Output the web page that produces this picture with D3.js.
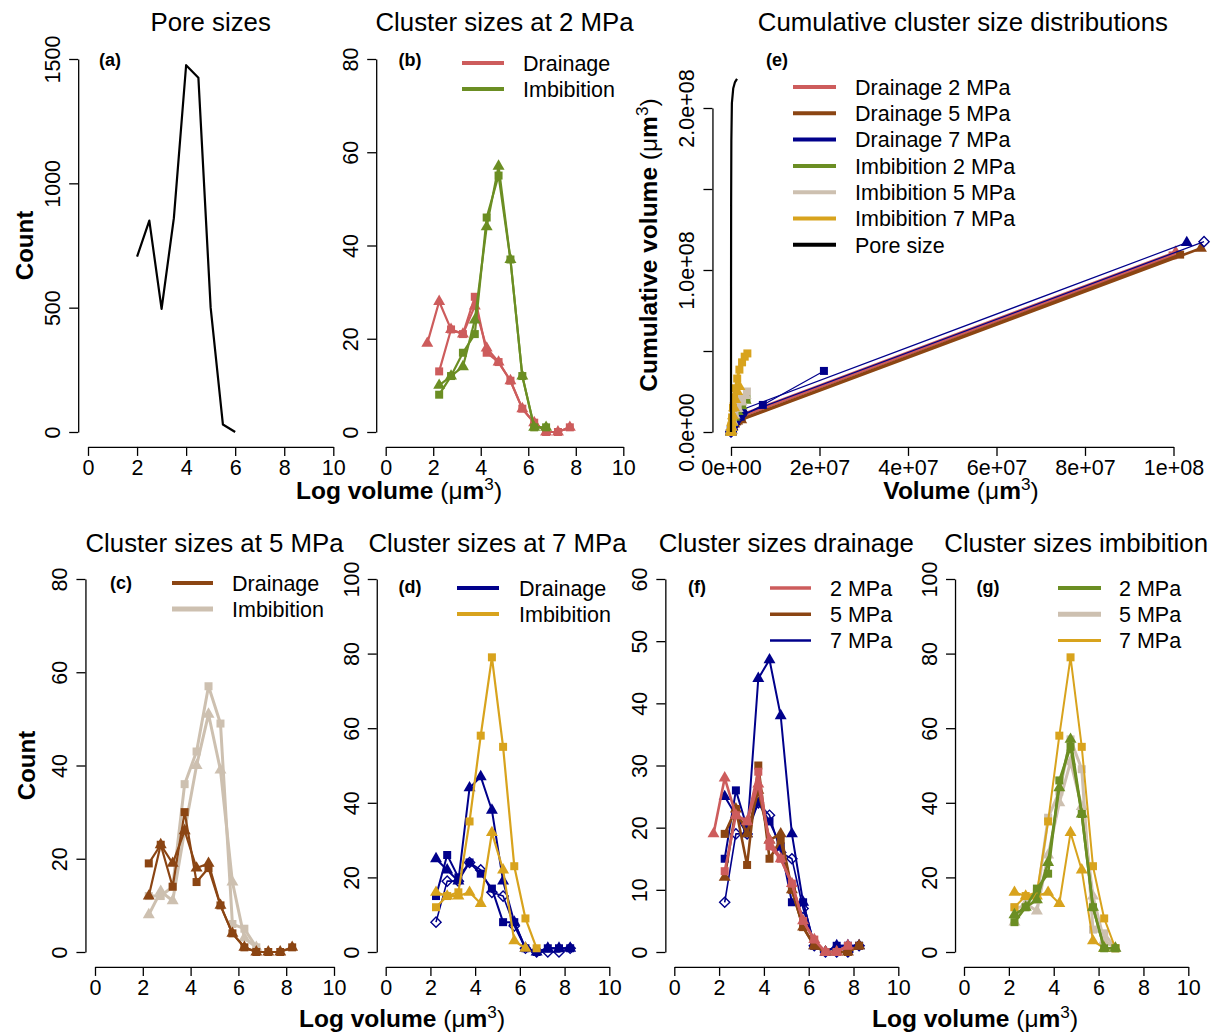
<!DOCTYPE html>
<html>
<head>
<meta charset="utf-8">
<script src="https://cdn.jsdelivr.net/npm/d3@7"></script>
<style>
  body { margin: 0; background: #fff; }
  svg { font-family: "Liberation Sans", Arial, sans-serif; }
</style>
</head>
<body>
<svg id="fig" width="1220" height="1036"></svg>
<script>
// ---- data ----
// pore size distribution (log10 volume, count)
const poreX = [2, 2.5, 3, 3.5, 4, 4.5, 5, 5.5, 6];
const poreCount = [705, 850, 495, 860, 1475, 1425, 500, 30, 0];

// bin centres for the cluster histograms
const binsA = [1.75, 2.25, 2.75, 3.25, 3.75, 4.25, 4.75, 5.25, 5.75, 6.25, 6.75, 7.25, 7.75];
const binsB = [2.25, 2.75, 3.25, 3.75, 4.25, 4.75, 5.25, 5.75, 6.25, 6.75, 7.25, 7.75];
const binsC = [2.25, 2.75, 3.25, 3.75, 4.25, 4.75, 5.25, 5.75, 6.25, 6.75, 7.25, 7.75, 8.25];
const binsI = [2.25, 2.75, 3.25, 3.75, 4.25, 4.75, 5.25, 5.75, 6.25, 6.75];
const binsI7t = [2.25, 2.75, 3.25, 3.75, 4.25, 4.75, 5.25, 5.75, 6.25];

// drainage 2 MPa (two replicates)
const drain2Sq = [13, 22, 21, 29, 17, 15, 11, 5, 2, 0, 0, 1];
const drain2Tri = [19, 28, 22, 21, 27, 18, 15, 11, 5, 2, 0, 0, 1];
// imbibition 2 MPa
const imb2Sq = [8, 12, 17, 21, 46, 55, 37, 12, 1, 1];
const imb2Tri = [10, 12, 14, 24, 44, 57, 37, 12, 1, 1];
// drainage 5 MPa
const drain5Sq = [19, 23, 14, 30, 15, 18, 10, 4, 1, 0, 0, 0, 1];
const drain5Tri = [12, 23, 19, 26, 18, 19, 10, 4, 1, 0, 0, 0, 1];
// imbibition 5 MPa
const imb5Sq = [12, 12, 14, 36, 43, 57, 49, 6, 5, 1];
const imb5Tri = [8, 13, 11, 26, 40, 51, 39, 15, 3, 1];
// drainage 7 MPa (three replicates)
const drain7Tri = [25, 22, 19, 44, 47, 38, 19, 8, 1, 0, 1, 1, 1];
const drain7Sq = [15, 26, 20, 24, 21, 17, 8, 8, 1, 0, 1, 1, 1];
const drain7Dia = [8, 19, 19, 24, 22, 16, 15, 7, 1, 0, 0, 0, 1];
// imbibition 7 MPa
const imb7Sq = [12, 15, 16, 35, 58, 79, 55, 23, 9, 1];
const imb7Tri = [16, 15, 15, 16, 13, 32, 22, 3, 1];

// cumulative distributions, units of 1e6 um^3
const cumD2SqX = [0, 0.02, 0.1, 0.3, 0.7, 1.3, 2.0, 99.8];
const cumD2SqY = [0, 0.3, 1.2, 3.0, 5.0, 7.2, 9.2, 109];
const cumD2TriX = [0, 0.02, 0.1, 0.3, 0.7, 1.3, 2.2, 100.5];
const cumD2TriY = [0, 0.3, 1.3, 3.2, 5.5, 8.0, 10.5, 111];
const cumD5SqX = [0, 0.02, 0.1, 0.3, 0.7, 1.4, 2.4, 101.5];
const cumD5SqY = [0, 0.3, 1.1, 2.8, 4.8, 6.5, 8.0, 109.5];
const cumD5TriX = [0, 0.02, 0.1, 0.3, 0.7, 1.4, 2.3, 106.2];
const cumD5TriY = [0, 0.3, 1.1, 2.9, 4.9, 6.8, 7.5, 113.4];
const cumD7SqX = [0, 0.02, 0.1, 0.3, 0.8, 2.2, 7.2, 21];
const cumD7SqY = [0, 0.3, 1.2, 3.0, 5.5, 9.5, 16.7, 37.7];
const cumD7TriX = [0, 0.02, 0.1, 0.3, 0.8, 1.6, 2.6, 103];
const cumD7TriY = [0, 0.3, 1.3, 3.4, 6.5, 9.8, 13.9, 116.9];
const cumD7DiaX = [0, 0.02, 0.1, 0.3, 0.8, 1.6, 2.4, 106.9];
const cumD7DiaY = [0, 0.3, 1.2, 3.1, 5.8, 8.2, 10.6, 117.5];
const cumI2SqX = [0, 0.03, 0.12, 0.35, 0.8, 1.5, 2.5, 3.5];
const cumI2SqY = [0, 0.8, 2.8, 6.0, 9.5, 13, 17, 20.5];
const cumI2TriX = [0, 0.03, 0.12, 0.35, 0.8, 1.5, 2.4, 3.3];
const cumI2TriY = [0, 0.8, 2.7, 5.8, 9.2, 12.6, 16.2, 19.5];
const cumI5SqX = [0, 0.03, 0.12, 0.35, 0.8, 1.5, 2.5, 3.6];
const cumI5SqY = [0, 0.9, 3.2, 7.2, 11.5, 16, 20.5, 25];
const cumI5TriX = [0, 0.03, 0.12, 0.35, 0.8, 1.5, 2.4, 3.3];
const cumI5TriY = [0, 0.9, 3.0, 6.6, 10.5, 14.5, 18.5, 22.5];
const cumI7SqX = [0, 0.03, 0.1, 0.25, 0.45, 0.7, 1.0, 1.4, 1.9, 2.5, 3.1, 3.7];
const cumI7SqY = [0, 1.2, 4, 9, 15, 21, 27, 33, 38.5, 43, 46.5, 48.5];
const cumI7TriX = [0, 0.03, 0.1, 0.25, 0.45, 0.7, 1.0, 1.4, 1.9];
const cumI7TriY = [0, 1.0, 3, 6, 10, 15, 20, 25, 28];
const cumPoreX = [0, 0.003, 0.01, 0.03, 0.08, 0.2, 0.5, 0.9, 1.36];
const cumPoreY = [0, 30, 90, 140, 180, 203, 212, 216, 218];

const cumLegend = ['Drainage 2 MPa', 'Drainage 5 MPa', 'Drainage 7 MPa',
  'Imbibition 2 MPa', 'Imbibition 5 MPa', 'Imbibition 7 MPa', 'Pore size'];

// colours
const colD2 = '#CD5C5C', colD5 = '#8B4513', colD7 = '#00008B';
const colI2 = '#6B8E23', colI5 = '#CDC0B0', colI7 = '#D8A31D';

const svg = d3.select('#fig');
const FONT = 21.5;

const symbols = {
  sq: d3.symbol(d3.symbolSquare, 64)(),
  tri: d3.symbol(d3.symbolTriangle, 62)(),
  dia: d3.symbol(d3.symbolSquare, 52)()
};

/**
 * builds one R-style panel: axes sit 4% outside the data region
 */
function makePanel(p) {
  const x = d3.scaleLinear().domain(p.xDom).range(p.xPx);
  const y = d3.scaleLinear().domain(p.yDom).range(p.yPx);
  const xl = p.xlim || p.xDom, yl = p.ylim || p.yDom;
  const left = x(xl[0]) - 0.04 * (x(xl[1]) - x(xl[0]));
  const right = x(xl[1]) + 0.04 * (x(xl[1]) - x(xl[0]));
  const bottom = y(yl[0]) + 0.04 * (y(yl[0]) - y(yl[1]));
  const g = svg.append('g');

  const ax = g.append('g').attr('transform', `translate(0,${bottom})`)
    .call(d3.axisBottom(x).tickValues(p.xTicks).tickSize(9).tickSizeOuter(0)
      .tickFormat(p.xFmt || (d => d)));
  ax.selectAll('.tick text').attr('y', 28).attr('dy', 0);

  const ay = g.append('g').attr('transform', `translate(${left},0)`)
    .call(d3.axisLeft(y).tickValues(p.yTicks).tickSize(9).tickSizeOuter(0)
      .tickFormat(p.yFmt || (d => d)));
  ay.selectAll('.tick text')
    .attr('x', 0).attr('y', 0).attr('dy', 0)
    .attr('text-anchor', 'middle')
    .attr('transform', 'translate(-18,0) rotate(-90)');

  [ax, ay].forEach(a => {
    a.attr('font-size', FONT).attr('font-family', null);
    a.selectAll('path, line').attr('stroke', '#000').attr('stroke-width', 1.3);
    a.selectAll('text').attr('fill', '#000');
  });

  // panel title
  g.append('text').attr('x', (left + right) / 2).attr('y', p.titleY)
    .attr('text-anchor', 'middle').attr('font-size', 25.8).text(p.title);
  // panel letter
  g.append('text').attr('x', p.tag[0]).attr('y', p.tag[1] + 6)
    .attr('text-anchor', 'middle').attr('font-size', 18).attr('font-weight', 'bold')
    .text(p.tagText);

  return { g, x, y };
}

function drawSeries(pan, xs, ys, col, shape, lw) {
  const line = d3.line().x((d, i) => pan.x(xs[i])).y(d => pan.y(d));
  pan.g.append('path').attr('d', line(ys))
    .attr('fill', 'none').attr('stroke', col).attr('stroke-width', lw)
    .attr('stroke-linejoin', 'round');
  if (!shape) return;
  pan.g.append('g').selectAll('path').data(ys).enter().append('path')
    .attr('transform', (d, i) => `translate(${pan.x(xs[i])},${pan.y(d)})` + (shape === 'dia' ? ' rotate(45)' : ''))
    .attr('d', symbols[shape])
    .attr('fill', shape === 'dia' ? 'none' : col)
    .attr('stroke', shape === 'dia' ? col : 'none')
    .attr('stroke-width', 1.4);
}

function legend(x1, x2, tx, y0, step, labels, cols, lws) {
  const g = svg.append('g');
  labels.forEach((lab, i) => {
    const yy = y0 + i * step;
    g.append('line').attr('x1', x1).attr('x2', x2).attr('y1', yy).attr('y2', yy)
      .attr('stroke', cols[i]).attr('stroke-width', lws[i]);
    g.append('text').attr('x', tx).attr('y', yy + 7.7).attr('font-size', FONT).text(lab);
  });
}

// axis title with (um^3) unit
function volTitle(sel, prefix) {
  sel.attr('font-size', 24.5);
  sel.append('tspan').attr('font-weight', 'bold').text(prefix);
  sel.append('tspan').text(' (\u03bc');
  sel.append('tspan').attr('font-weight', 'bold').text('m');
  sel.append('tspan').attr('font-size', '0.7em').attr('dy', '-0.55em').text('3');
  sel.append('tspan').attr('dy', '0.385em').text(')');
}

const xTicks10 = [0, 2, 4, 6, 8, 10];

// ---- (a) pore sizes ----
const pa = makePanel({ xDom: [0, 10], xPx: [88, 333.3], yDom: [0, 1500], yPx: [432, 59],
  xTicks: xTicks10, yTicks: [0, 500, 1000, 1500], title: 'Pore sizes', titleY: 31,
  tag: [110, 60], tagText: '(a)' });
drawSeries(pa, poreX, poreCount, '#000', null, 2.2);

// ---- (b) 2 MPa ----
const pb = makePanel({ xDom: [0, 10], xPx: [385.7, 623.3], yDom: [0, 80], yPx: [432, 59],
  xTicks: xTicks10, yTicks: [0, 20, 40, 60, 80], title: 'Cluster sizes at 2 MPa', titleY: 31,
  tag: [410, 60], tagText: '(b)' });
drawSeries(pb, binsB, drain2Sq, colD2, 'sq', 2.2);
drawSeries(pb, binsA, drain2Tri, colD2, 'tri', 2.2);
drawSeries(pb, binsI, imb2Sq, colI2, 'sq', 2.2);
drawSeries(pb, binsI, imb2Tri, colI2, 'tri', 2.2);
legend(462, 504, 523, 63, 26, ['Drainage', 'Imbibition'], [colD2, colI2], [4, 4]);

// ---- (e) cumulative ----
const sciFmtX = d => d === 0 ? '0e+00' : (d === 100 ? '1e+08' : (d / 10) + 'e+07');
const sciFmtY = d => ({ 0: '0.0e+00', 100: '1.0e+08', 200: '2.0e+08' }[d] || '');
const pe = makePanel({ xDom: [0, 100], xPx: [731, 1173.5], xlim: [0, 104.8],
  yDom: [0, 200], yPx: [432, 108], ylim: [0, 230.2],
  xTicks: [0, 20, 40, 60, 80, 100], yTicks: [0, 50, 100, 150, 200],
  xFmt: sciFmtX, yFmt: sciFmtY,
  title: 'Cumulative cluster size distributions', titleY: 31, tag: [777, 60], tagText: '(e)' });
drawSeries(pe, cumD2SqX, cumD2SqY, colD2, 'sq', 2.6);
drawSeries(pe, cumD2TriX, cumD2TriY, colD2, 'tri', 2.6);
drawSeries(pe, cumD5SqX, cumD5SqY, colD5, 'sq', 2.6);
drawSeries(pe, cumD5TriX, cumD5TriY, colD5, 'tri', 2.6);
drawSeries(pe, cumD7SqX, cumD7SqY, colD7, 'sq', 1.2);
drawSeries(pe, cumD7TriX, cumD7TriY, colD7, 'tri', 1.2);
drawSeries(pe, cumD7DiaX, cumD7DiaY, colD7, 'dia', 1.2);
drawSeries(pe, cumI2SqX, cumI2SqY, colI2, 'sq', 2.2);
drawSeries(pe, cumI2TriX, cumI2TriY, colI2, 'tri', 2.2);
drawSeries(pe, cumI5SqX, cumI5SqY, colI5, 'sq', 3);
drawSeries(pe, cumI5TriX, cumI5TriY, colI5, 'tri', 3);
drawSeries(pe, cumI7SqX, cumI7SqY, colI7, 'sq', 3);
drawSeries(pe, cumI7TriX, cumI7TriY, colI7, 'tri', 3);
drawSeries(pe, cumPoreX, cumPoreY, '#000', null, 2.2);
legend(793, 836, 855, 87, 26.3, cumLegend,
  [colD2, colD5, colD7, colI2, colI5, colI7, '#000'], [4, 4, 4, 4, 4, 4, 4]);

// ---- (c) 5 MPa ----
const pc = makePanel({ xDom: [0, 10], xPx: [95, 334], yDom: [0, 80], yPx: [952, 579],
  xTicks: xTicks10, yTicks: [0, 20, 40, 60, 80], title: 'Cluster sizes at 5 MPa', titleY: 552,
  tag: [121, 583], tagText: '(c)' });
drawSeries(pc, binsI, imb5Sq, colI5, 'sq', 3);
drawSeries(pc, binsI, imb5Tri, colI5, 'tri', 3);
drawSeries(pc, binsC, drain5Sq, colD5, 'sq', 2.2);
drawSeries(pc, binsC, drain5Tri, colD5, 'tri', 2.2);
legend(172, 213, 232, 583, 26, ['Drainage', 'Imbibition'], [colD5, colI5], [4, 5]);

// ---- (d) 7 MPa ----
const pd = makePanel({ xDom: [0, 10], xPx: [385.7, 609.3], yDom: [0, 100], yPx: [952, 579],
  xTicks: xTicks10, yTicks: [0, 20, 40, 60, 80, 100], title: 'Cluster sizes at 7 MPa', titleY: 552,
  tag: [410, 587], tagText: '(d)' });
drawSeries(pd, binsC, drain7Dia, colD7, 'dia', 1.6);
drawSeries(pd, binsC, drain7Sq, colD7, 'sq', 2);
drawSeries(pd, binsC, drain7Tri, colD7, 'tri', 2);
drawSeries(pd, binsI, imb7Sq, colI7, 'sq', 2.2);
drawSeries(pd, binsI7t, imb7Tri, colI7, 'tri', 2.2);
legend(457, 499, 519, 588, 26, ['Drainage', 'Imbibition'], [colD7, colI7], [4, 4]);

// ---- (f) drainage ----
const pf = makePanel({ xDom: [0, 10], xPx: [674.3, 898.3], yDom: [0, 60], yPx: [952, 579],
  xTicks: xTicks10, yTicks: [0, 10, 20, 30, 40, 50, 60], title: 'Cluster sizes drainage', titleY: 552,
  tag: [697, 587], tagText: '(f)' });
drawSeries(pf, binsC, drain7Dia, colD7, 'dia', 1.6);
drawSeries(pf, binsC, drain7Sq, colD7, 'sq', 2);
drawSeries(pf, binsC, drain7Tri, colD7, 'tri', 2);
drawSeries(pf, binsC, drain5Sq, colD5, 'sq', 2.6);
drawSeries(pf, binsC, drain5Tri, colD5, 'tri', 2.6);
drawSeries(pf, binsB, drain2Sq, colD2, 'sq', 2.6);
drawSeries(pf, binsA, drain2Tri, colD2, 'tri', 2.6);
legend(770, 811, 830, 588, 26.2, ['2 MPa', '5 MPa', '7 MPa'], [colD2, colD5, colD7], [3.5, 3.5, 2.5]);

// ---- (g) imbibition ----
const pg = makePanel({ xDom: [0, 10], xPx: [964, 1188.3], yDom: [0, 100], yPx: [952, 579],
  xTicks: xTicks10, yTicks: [0, 20, 40, 60, 80, 100], title: 'Cluster sizes imbibition', titleY: 552,
  tag: [988, 587], tagText: '(g)' });
drawSeries(pg, binsI, imb5Sq, colI5, 'sq', 3);
drawSeries(pg, binsI, imb5Tri, colI5, 'tri', 3);
drawSeries(pg, binsI, imb7Sq, colI7, 'sq', 2);
drawSeries(pg, binsI7t, imb7Tri, colI7, 'tri', 2);
drawSeries(pg, binsI, imb2Sq, colI2, 'sq', 2.6);
drawSeries(pg, binsI, imb2Tri, colI2, 'tri', 2.6);
legend(1058, 1101, 1119, 588, 26.2, ['2 MPa', '5 MPa', '7 MPa'], [colI2, colI5, colI7], [4, 5, 3]);

// ---- axis titles ----
volTitle(svg.append('text').attr('x', 399).attr('y', 499).attr('text-anchor', 'middle'), 'Log volume');
volTitle(svg.append('text').attr('x', 961).attr('y', 499).attr('text-anchor', 'middle'), 'Volume');
volTitle(svg.append('text').attr('x', 402).attr('y', 1027).attr('text-anchor', 'middle'), 'Log volume');
volTitle(svg.append('text').attr('x', 975).attr('y', 1027).attr('text-anchor', 'middle'), 'Log volume');
volTitle(svg.append('text').attr('text-anchor', 'middle')
  .attr('transform', 'translate(657,245) rotate(-90)'), 'Cumulative volume');

svg.append('text').attr('text-anchor', 'middle').attr('font-size', 24).attr('font-weight', 'bold')
  .attr('transform', 'translate(33,245.5) rotate(-90)').text('Count');
svg.append('text').attr('text-anchor', 'middle').attr('font-size', 24).attr('font-weight', 'bold')
  .attr('transform', 'translate(35,765.5) rotate(-90)').text('Count');
</script>
</body>
</html>
